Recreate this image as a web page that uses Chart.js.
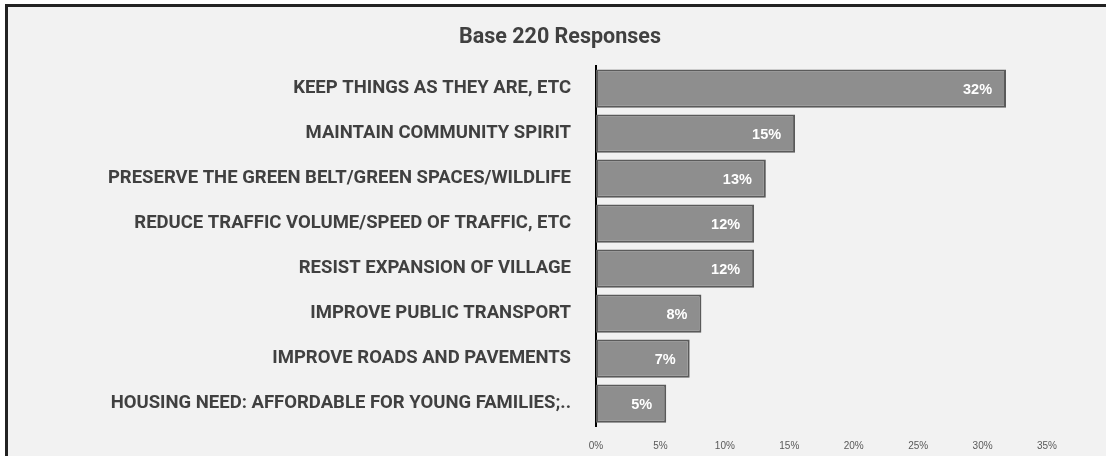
<!DOCTYPE html>
<html lang="en">
<head>
    <meta charset="UTF-8">
    <title>Base 220 Responses</title>
    <script src="https://cdn.jsdelivr.net/npm/chart.js"></script>
    <style>
        html, body { margin: 0; padding: 0; background: #fff; overflow: hidden; }
        .frame {
            position: absolute; left: 5px; top: 4px; width: 1120px; height: 470px;
            border: 3px solid #222; background: #f2f2f2;
        }
        .wrap { position: absolute; left: 0; top: 0; width: 1106px; height: 456px; }
    </style>
</head>
<body>
<div class="frame"></div>
<div class="wrap">
    <canvas id="barChart" aria-label="Base 220 Responses" role="img"></canvas>
</div>

<script>
    const categories = [
        'KEEP THINGS AS THEY ARE, ETC',
        'MAINTAIN COMMUNITY SPIRIT',
        'PRESERVE THE GREEN BELT/GREEN SPACES/WILDLIFE',
        'REDUCE TRAFFIC VOLUME/SPEED OF TRAFFIC, ETC',
        'RESIST EXPANSION OF VILLAGE',
        'IMPROVE PUBLIC TRANSPORT',
        'IMPROVE ROADS AND PAVEMENTS',
        'HOUSING NEED: AFFORDABLE FOR YOUNG FAMILIES;..'
    ];
    // percent of 220 responses
    const percentages = [31.82, 15.45, 13.18, 12.27, 12.27, 8.18, 7.27, 5.45];
    const xTicks = { min: 0, max: 35, step: 5 };

    // white % labels inside the end of each bar
    const barValueLabels = {
        id: 'barValueLabels',
        afterDatasetsDraw(chart) {
            const ctx = chart.ctx;
            const meta = chart.getDatasetMeta(0);
            ctx.save();
            ctx.fillStyle = '#ffffff';
            ctx.font = 'bold 14.5px "Liberation Sans", Arial, sans-serif';
            ctx.textAlign = 'right';
            ctx.textBaseline = 'middle';
            meta.data.forEach((bar, i) => {
                ctx.fillText(percentages[i].toFixed(0) + '%', bar.x - 14, bar.y + 1);
            });
            ctx.restore();
        }
    };

    const ctx = document.getElementById('barChart').getContext('2d');
    new Chart(ctx, {
        type: 'bar',
        data: {
            labels: categories,
            datasets: [{
                data: percentages,
                backgroundColor: '#8e8e8e',
                borderColor: '#5a5a5a',
                borderWidth: 2,
                borderSkipped: false,
                categoryPercentage: 1,
                barPercentage: 0.85
            }]
        },
        plugins: [barValueLabels],
        options: {
            indexAxis: 'y',
            responsive: true,
            maintainAspectRatio: false,
            animation: false,
            layout: { padding: { left: 73, right: 59, top: 0, bottom: 0 } },
            plugins: {
                legend: { display: false },
                tooltip: { enabled: false },
                title: {
                    display: true,
                    text: 'Base 220 Responses',
                    color: '#404040',
                    font: { family: 'Roboto', size: 21.5, weight: 'bold' },
                    padding: { top: 24.6, bottom: 15.6 }
                }
            },
            scales: {
                x: {
                    min: xTicks.min,
                    max: xTicks.max,
                    grid: { display: false },
                    border: { display: false },
                    afterFit(scale) { scale.height = 30; },
                    ticks: {
                        stepSize: xTicks.step,
                        padding: 6,
                        color: '#595959',
                        font: { family: '"Liberation Sans", Arial', size: 10 },
                        callback: v => v + '%'
                    }
                },
                y: {
                    grid: { display: false },
                    border: { display: true, color: '#000000', width: 2 },
                    afterFit(scale) { scale.width = 523; },
                    ticks: {
                        padding: 17,
                        color: '#404040',
                        font: { family: 'Roboto', size: 18.5, weight: 'bold' }
                    }
                }
            }
        }
    });
</script>
</body>
</html>
